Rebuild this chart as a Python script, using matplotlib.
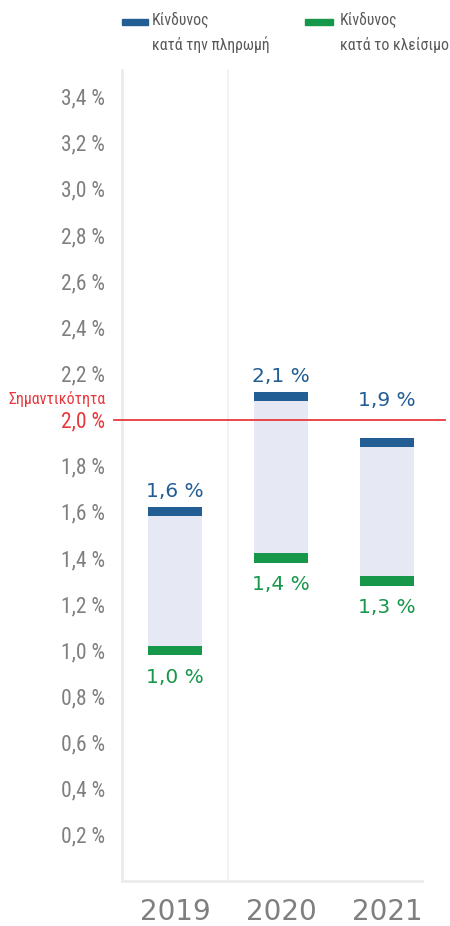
import matplotlib
matplotlib.use('Agg')
import matplotlib.pyplot as plt
from matplotlib import font_manager
from matplotlib.transforms import blended_transform_factory, ScaledTranslation

# data
years = ['2019', '2020', '2021']
risk_payment = [1.6, 2.1, 1.9]   # Κίνδυνος κατά την πληρωμή (blue)
risk_closing = [1.0, 1.4, 1.3]   # Κίνδυνος κατά το κλείσιμο (green)
materiality = 2.0
yticks = [0.2, 0.4, 0.6, 0.8, 1.0, 1.2, 1.4, 1.6, 1.8, 2.0, 2.2, 2.4, 2.6, 2.8, 3.0, 3.2, 3.4]

blue = '#225d94'
green = '#16974a'
fill = '#e6e9f3'
grey = '#7f7f7f'
red = '#e8383d'

# narrow font if there is one
names = set(f.name for f in font_manager.fontManager.ttflist)
narrow_fam = None
for n in ['Liberation Sans Narrow', 'Roboto Condensed', 'Open Sans Condensed', 'DejaVu Sans Condensed']:
    if n in names:
        narrow_fam = n
        break
if narrow_fam is None:
    narrow = dict(family=['DejaVu Sans'], stretch='condensed')
else:
    narrow = dict(family=[narrow_fam, 'DejaVu Sans'])

fig = plt.figure(figsize=(4.5, 9.26), dpi=100)
ax = fig.add_axes([122 / 450, 45 / 926, 300 / 450, 811 / 926])

x = list(range(len(years)))
w = 0.51
band = 0.04

# light fill between the two risks
ax.bar(x, [p - c for p, c in zip(risk_payment, risk_closing)], bottom=risk_closing,
       width=w, color=fill, zorder=2)
# bands at each value
ax.bar(x, band, bottom=[v - band / 2 for v in risk_payment], width=w, color=blue, zorder=3)
ax.bar(x, band, bottom=[v - band / 2 for v in risk_closing], width=w, color=green, zorder=3)

for i in x:
    ytop = risk_payment[i] + 0.045
    if materiality - 0.1 < ytop < materiality + 0.04:
        ytop = materiality + 0.04   # keep the label clear of the red line
    ax.text(i, ytop, ('%.1f %%' % risk_payment[i]).replace('.', ','),
            ha='center', va='bottom', color=blue, fontsize=14.5)
    ax.text(i, risk_closing[i] - 0.075, ('%.1f %%' % risk_closing[i]).replace('.', ','),
            ha='center', va='top', color=green, fontsize=14.5)

# materiality line
ax.axhline(materiality, xmin=-0.027, xmax=1.077, color=red, lw=1.3, clip_on=False, zorder=4)
trans = blended_transform_factory(ax.transAxes, ax.transData)
ax.text(-0.055, 2.09, 'Σημαντικότητα', transform=trans, ha='right', va='center',
        color=red, fontsize=11.5, **narrow)

# vertical separator
ax.axvline(0.5, color='#efefef', lw=1.2, zorder=1)

ax.set_xlim(-0.5, 2.33)
ax.set_ylim(0, 3.515)
ax.set_yticks(yticks)
ax.set_yticklabels([('%.1f %%' % t).replace('.', ',') for t in yticks], fontsize=15.5,
                   color=grey, **narrow)
for lab, t in zip(ax.get_yticklabels(), yticks):
    if abs(t - materiality) < 1e-9:
        lab.set_color(red)
        lab.set_transform(lab.get_transform() + ScaledTranslation(0, -5 / 72, fig.dpi_scale_trans))
ax.set_xticks(x)
ax.set_xticklabels(years, fontsize=20, color=grey)
ax.tick_params(axis='y', length=0, pad=12)
ax.tick_params(axis='x', length=0, pad=12)

for s in ['top', 'right']:
    ax.spines[s].set_visible(False)
for s in ['left', 'bottom']:
    ax.spines[s].set_color('#ececec')
    ax.spines[s].set_linewidth(2)

# legend
ax.add_patch(plt.Rectangle((122 / 450, 1 - 25 / 926), 26 / 450, 6 / 926, transform=fig.transFigure,
                           color=blue, clip_on=False))
ax.add_patch(plt.Rectangle((305 / 450, 1 - 25 / 926), 28 / 450, 6 / 926, transform=fig.transFigure,
                           color=green, clip_on=False))
fig.text(152 / 450, 1 - 20 / 926, 'Κίνδυνος', ha='left', va='center',
         fontsize=11.3, color='#595959', **narrow)
fig.text(152 / 450, 1 - 45 / 926, 'κατά την πληρωμή', ha='left', va='center',
         fontsize=11.3, color='#595959', **narrow)
fig.text(340 / 450, 1 - 20 / 926, 'Κίνδυνος', ha='left', va='center',
         fontsize=11.3, color='#595959', **narrow)
fig.text(340 / 450, 1 - 45 / 926, 'κατά το κλείσιμο', ha='left', va='center',
         fontsize=11.3, color='#595959', **narrow)

fig.savefig('out.png', dpi=100)
